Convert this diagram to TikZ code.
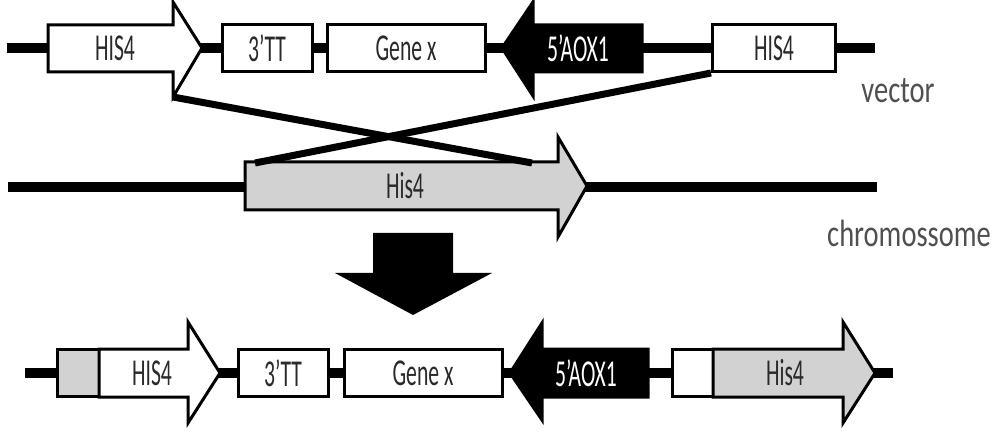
\documentclass[tikz,border=0pt]{standalone}
\usepackage{fontspec}
\setmainfont{Carlito}
\usepackage{graphicx}
\usetikzlibrary{positioning}
\definecolor{txtgray}{HTML}{2A2A2A}
\definecolor{sidegray}{HTML}{505050}
\definecolor{hisgray}{HTML}{D2D2D2}
\newcommand{\narrow}[1]{\scalebox{0.57}[1]{#1}}
\newcommand{\wide}[1]{\scalebox{0.75}[1]{#1}}

\begin{document}
\begin{tikzpicture}[x=1pt, y=-1pt,
    backbone/.style={line width=10pt},
    genebox/.style={draw, fill=white, line width=3pt, inner sep=0pt, minimum height=47pt,
      text=txtgray, font=\fontsize{38}{44}\selectfont},
    geneshape/.style={draw, fill=white, line width=3pt, line join=miter},
    lbl/.style={text=txtgray, font=\fontsize{38}{44}\selectfont, inner sep=0pt},
    crossline/.style={line width=7pt},
    side/.style={text=sidegray, font=\fontsize{38}{44}\selectfont, inner sep=0pt, anchor=base}]

  \useasboundingbox (0,0) rectangle (998,438);

  % Vector
  \coordinate (vecL) at (7,48);
  \coordinate (vecR) at (875,48);
  \draw[backbone] (vecL) -- (vecR);

  \draw[geneshape] (48,25) -- (173,25) -- (173,2) -- (202,48) -- (173,97) -- (173,72) -- (48,72) -- cycle;
  \node[lbl] (his4v) at (115,48) {\narrow{HIS4}};
  \node[genebox, minimum width=90pt] (tt3v) at (267,48) {\narrow{3’TT}};
  \node[genebox, minimum width=158pt] (genexv) at (406,48) {\narrow{Gene x}};
  \draw[geneshape, fill=black] (642,25) -- (533,25) -- (533,2) -- (502,48) -- (533,96) -- (533,72) -- (642,72) -- cycle;
  \node[lbl, text=white] (aoxv) at (578,48) {\narrow{5’AOX1}};
  \node[genebox, minimum width=123pt] (his4rv) at (774,48) {\narrow{HIS4}};
  \node[side] (vector) at (898,103) {\wide{vector}};

  % Chromosome
  \coordinate (chrL) at (8,187);
  \coordinate (chrR) at (877,187);
  \draw[backbone] (chrL) -- (chrR);

  \draw[geneshape, fill=hisgray] (245,162) -- (558,162) -- (558,137) -- (587,186) -- (558,237) -- (558,210) -- (245,210) -- cycle;
  \node[lbl] (his4c) at (405,186) {\narrow{His4}};
  \node[side] (chromo) at (909,247) {\wide{chromossome}};

  % Crossover
  \coordinate (his4vcut) at (173,97);
  \coordinate (his4cL) at (255,163);
  \coordinate (his4cR) at (532,163);
  \draw[crossline] (his4vcut) -- (his4cR);
  \draw[crossline] (his4rv.south west) -- (his4cL);

  % Big arrow
  \fill (373,233) -- (453,233) -- (453,273) -- (492,273) -- (413,315) -- (335,273) -- (373,273) -- cycle;

  % Result
  \coordinate (resL) at (25,373);
  \coordinate (resR) at (893,373);
  \draw[backbone] (resL) -- (resR);

  \node[genebox, minimum width=42pt, fill=hisgray] (grayr) at (78,373) {};
  \draw[geneshape] (99,349) -- (188,349) -- (188,322) -- (220,373) -- (188,423) -- (188,397) -- (99,397) -- cycle;
  \node[lbl] (his4r) at (152,373) {\narrow{HIS4}};
  \node[genebox, minimum width=90pt] (tt3r) at (283,373) {\narrow{3’TT}};
  \node[genebox, minimum width=158pt] (genexr) at (423,373) {\narrow{Gene x}};
  \draw[geneshape, fill=black] (648,349) -- (542,349) -- (542,323) -- (510,373) -- (542,420) -- (542,397) -- (648,397) -- cycle;
  \node[lbl, text=white] (aoxr) at (586,373) {\narrow{5’AOX1}};
  \node[genebox, minimum width=41pt] (whiter) at (692.5,373) {};
  \draw[geneshape, fill=hisgray] (713,349) -- (843,349) -- (843,322) -- (875,373) -- (843,423) -- (843,397) -- (713,397) -- cycle;
  \node[lbl] (his4rc) at (785,373) {\narrow{His4}};
\end{tikzpicture}
\end{document}
